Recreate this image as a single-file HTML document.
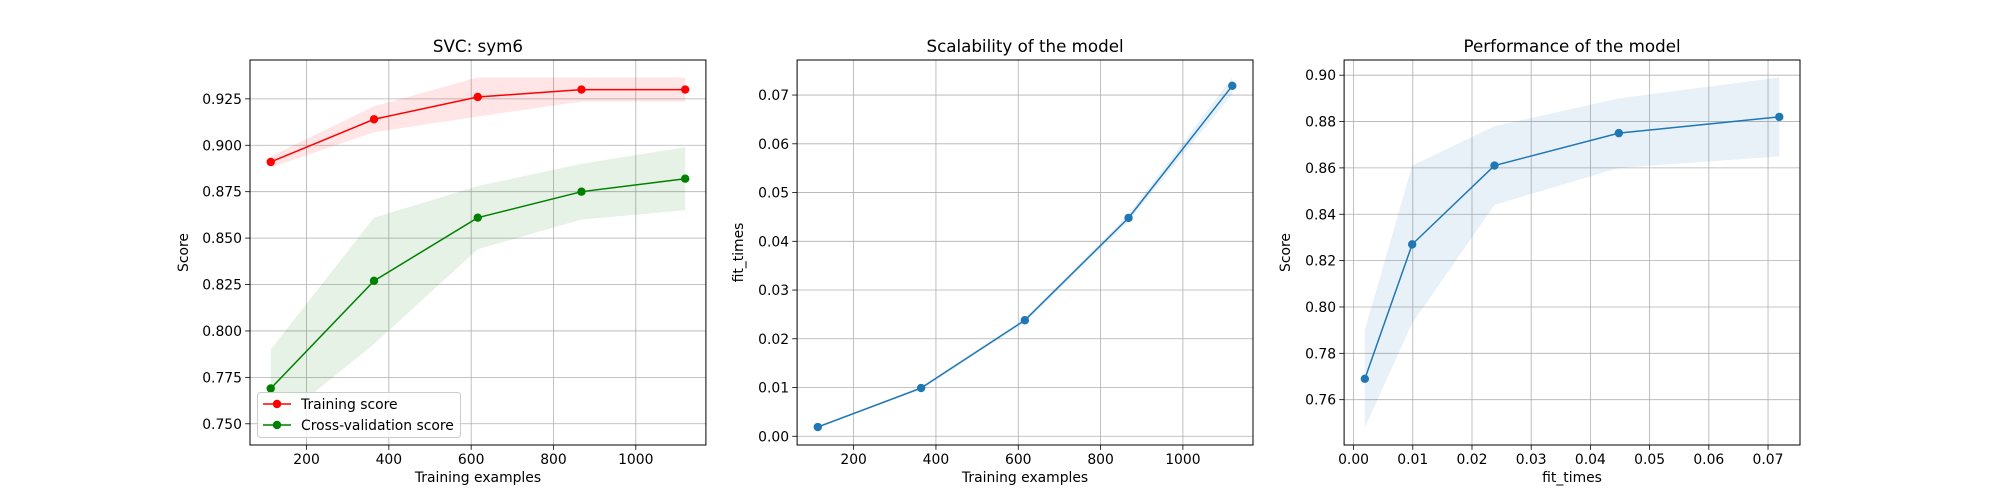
<!DOCTYPE html>
<html><head><meta charset="utf-8"><style>
html,body{margin:0;padding:0;background:#fff;}
svg{display:block;font-family:"DejaVu Sans","Liberation Sans",sans-serif;}
</style></head><body>
<svg id="fig" width="2000" height="500" viewBox="0 0 2000 500" xmlns="http://www.w3.org/2000/svg"></svg>
<script>
const trainSizes=[113,364,616,868,1120];
const trainMean=[0.891,0.914,0.926,0.930,0.930];
const trainStd=[0.003,0.007,0.0105,0.0065,0.0065];
const testMean=[0.769,0.827,0.861,0.875,0.882];
const testStd=[0.021,0.034,0.017,0.015,0.017];
const fitMean=[0.0019,0.0099,0.0238,0.0448,0.0719];
const fitStd=[0.0001,0.0003,0.0004,0.0007,0.0017];
const ax1XTicks=[200,400,600,800,1000];
const ax1YTicks=[0.750,0.775,0.800,0.825,0.850,0.875,0.900,0.925];
const ax2XTicks=[200,400,600,800,1000];
const ax2YTicks=[0.00,0.01,0.02,0.03,0.04,0.05,0.06,0.07];
const ax3XTicks=[0.00,0.01,0.02,0.03,0.04,0.05,0.06,0.07];
const ax3YTicks=[0.76,0.78,0.80,0.82,0.84,0.86,0.88,0.90];

const NS="http://www.w3.org/2000/svg";
const fig=document.getElementById('fig');
function mk(tag,attrs,parent){const e=document.createElementNS(NS,tag);for(const k in attrs)e.setAttribute(k,attrs[k]);(parent||fig).appendChild(e);return e;}
function lim(vals){const lo=Math.min(...vals),hi=Math.max(...vals),m=(hi-lo)*0.05;return [lo-m,hi+m];}

function axes(cfg){
  const L=cfg.left,R=cfg.left+455.9,T=60,B=445;
  const [x0,x1]=lim(cfg.xs);const [y0,y1]=lim(cfg.ys);
  const sx=v=>L+(v-x0)/(x1-x0)*(R-L);
  const sy=v=>B-(v-y0)/(y1-y0)*(B-T);
  const g=mk('g',{});
  
  
  cfg.xt.forEach(t=>{const l=mk('line',{x1:sx(t),x2:sx(t),y1:T,y2:B,stroke:'#b0b0b0','stroke-width':0.8},g);});
  cfg.yt.forEach(t=>{const l=mk('line',{x1:L,x2:R,y1:sy(t),y2:sy(t),stroke:'#b0b0b0','stroke-width':0.8},g);});
  cfg.draw(g,sx,sy);
  const r=mk('rect',{x:L,y:T,width:R-L,height:B-T,fill:'none',stroke:'#000','stroke-width':1},g);
  
  cfg.xt.forEach((t,i)=>{
    mk('line',{x1:sx(t),x2:sx(t),y1:B,y2:B+4.9,stroke:'#000','stroke-width':0.8},g);
    const tx=mk('text',{x:sx(t),y:B+19,'font-size':13.9,'text-anchor':'middle',fill:'#000'},g);
    tx.textContent=cfg.xl[i];
    
  });
  cfg.yt.forEach((t,i)=>{
    mk('line',{x1:L,x2:L-4.9,y1:sy(t),y2:sy(t),stroke:'#000','stroke-width':0.8},g);
    const tx=mk('text',{x:L-8,y:sy(t)+5,'font-size':13.9,'text-anchor':'end',fill:'#000'},g);
    tx.textContent=cfg.yl[i];
    
  });
  const ti=mk('text',{x:(L+R)/2,y:T-8,'font-size':16.7,'text-anchor':'middle'},g);ti.textContent=cfg.title;
  
  const xl=mk('text',{x:(L+R)/2,y:B+37,'font-size':13.9,'text-anchor':'middle'},g);xl.textContent=cfg.xlabel;
  
  const yx=cfg.ylx, yy=(T+B)/2;
  const yl=mk('text',{x:yx,y:yy,'font-size':13.9,'text-anchor':'middle',transform:`rotate(-90 ${yx} ${yy})`},g);yl.textContent=cfg.ylabel;
  
}
function band(g,xs,m,s,sx,sy,fill,op,name){
  let d='M';xs.forEach((x,i)=>{d+=sx(x)+','+sy(m[i]+s[i])+' L';});
  for(let i=xs.length-1;i>=0;i--){d+=sx(xs[i])+','+sy(m[i]-s[i])+(i?' L':' Z');}
  const p=mk('path',{d:d,fill:fill,'fill-opacity':op,stroke:'none'},g);
  
}
function series(g,xs,ys,sx,sy,col,name){
  const p=mk('polyline',{points:xs.map((x,i)=>sx(x)+','+sy(ys[i])).join(' '),fill:'none',stroke:col,'stroke-width':1.5},g);
  
  xs.forEach((x,i)=>{const c=mk('circle',{cx:sx(x),cy:sy(ys[i]),r:4.2,fill:col},g);
    });
}
const fmt=(a,n)=>a.map(v=>v.toFixed(n));
const up=(m,s)=>m.map((v,i)=>v+s[i]), dn=(m,s)=>m.map((v,i)=>v-s[i]);

axes({name:'learning-curve-panel',left:250,xs:trainSizes,
  ys:[...up(trainMean,trainStd),...dn(trainMean,trainStd),...up(testMean,testStd),...dn(testMean,testStd)],
  xt:ax1XTicks,xl:fmt(ax1XTicks,0),yt:ax1YTicks,yl:fmt(ax1YTicks,3),
  title:'SVC: sym6',xlabel:'Training examples',ylabel:'Score',ylx:188,
  draw:(g,sx,sy)=>{
    band(g,trainSizes,trainMean,trainStd,sx,sy,'#ff0000',0.1,'training-score-band');
    band(g,trainSizes,testMean,testStd,sx,sy,'#008000',0.1,'cv-score-band');
    series(g,trainSizes,trainMean,sx,sy,'#ff0000','training-score');
    series(g,trainSizes,testMean,sx,sy,'#008000','cv-score');
  }});
(function(){
  const g=mk('g',{});
  mk('rect',{x:257.5,y:392.5,width:203,height:45,rx:3,fill:'#fff','fill-opacity':0.8,stroke:'#ccc','stroke-width':1},g);
  [['Training score','#ff0000',404],['Cross-validation score','#008000',425]].forEach(([t,c,y])=>{
    const e=mk('g',{},g);
    mk('line',{x1:263,x2:291,y1:y,y2:y,stroke:c,'stroke-width':1.5},e);
    mk('circle',{cx:277,cy:y,r:4.2,fill:c},e);
    const tx=mk('text',{x:301,y:y+5,'font-size':13.9},e);tx.textContent=t;
  });
})();

axes({name:'scalability-panel',left:797.1,xs:trainSizes,
  ys:[...up(fitMean,fitStd),...dn(fitMean,fitStd)],
  xt:ax2XTicks,xl:fmt(ax2XTicks,0),yt:ax2YTicks,yl:fmt(ax2YTicks,2),
  title:'Scalability of the model',xlabel:'Training examples',ylabel:'fit_times',ylx:743,
  draw:(g,sx,sy)=>{
    band(g,trainSizes,fitMean,fitStd,sx,sy,'#1f77b4',0.1,'fit-time-band');
    series(g,trainSizes,fitMean,sx,sy,'#1f77b4','fit-time');
  }});

axes({name:'performance-panel',left:1344.1,xs:fitMean,
  ys:[...up(testMean,testStd),...dn(testMean,testStd)],
  xt:ax3XTicks,xl:fmt(ax3XTicks,2),yt:ax3YTicks,yl:fmt(ax3YTicks,2),
  title:'Performance of the model',xlabel:'fit_times',ylabel:'Score',ylx:1290,
  draw:(g,sx,sy)=>{
    band(g,fitMean,testMean,testStd,sx,sy,'#1f77b4',0.1,'performance-band');
    series(g,fitMean,testMean,sx,sy,'#1f77b4','performance');
  }});
</script>
</body></html>
